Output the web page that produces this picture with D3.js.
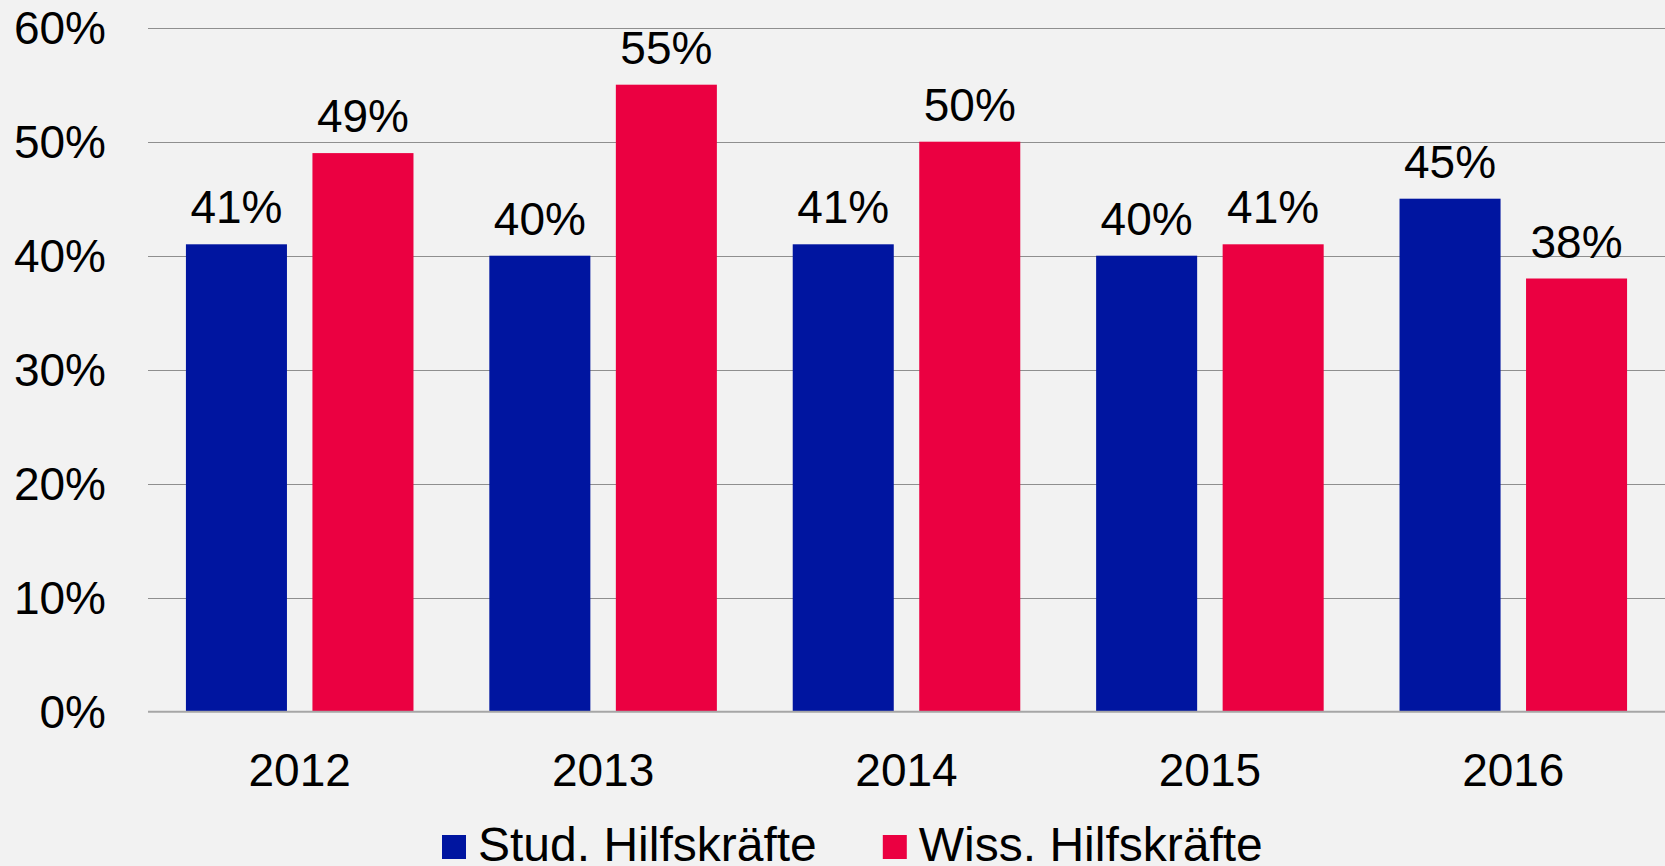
<!DOCTYPE html>
<html>
<head>
<meta charset="utf-8">
<script src="https://cdn.jsdelivr.net/npm/d3@7"></script>
<style>
  html, body { margin: 0; padding: 0; background: #f2f2f2; }
  text { font-family: "Liberation Sans", Arial, sans-serif; fill: #000; }
</style>
</head>
<body>
<script>
const years = ["2012", "2013", "2014", "2015", "2016"];
const stud = [41, 40, 41, 40, 45];
const wiss = [49, 55, 50, 41, 38];
const seriesNames = ["Stud. Hilfskräfte", "Wiss. Hilfskräfte"];
const seriesColors = ["#0015a0", "#eb0041"];
const yTicks = [0, 10, 20, 30, 40, 50, 60];

const width = 1665;
const height = 866;
const marginLeft = 148;
const marginTop = 27.7;
const plotBottom = 711.7;

const svg = d3.select("body")
  .append("svg")
  .attr("width", width)
  .attr("height", height);

svg.append("rect")
  .attr("width", width)
  .attr("height", height)
  .attr("fill", "#f2f2f2");

const x = d3.scaleBand()
  .domain(years)
  .range([marginLeft, width]);

const y = d3.scaleLinear()
  .domain([0, 60])
  .range([plotBottom, marginTop]);

// bars inside each band: 38 outer pad, 101 bar, 25 gap
const step = x.bandwidth();
const barW = step * 0.333;
const outer = step * 0.125;
const inner = step - 2 * outer - 2 * barW;

// grid lines
svg.append("g")
  .selectAll("line")
  .data(yTicks.filter(d => d > 0))
  .join("line")
  .attr("x1", marginLeft)
  .attr("x2", width)
  .attr("y1", d => Math.round(y(d)) + 0.5)
  .attr("y2", d => Math.round(y(d)) + 0.5)
  .attr("stroke", "#8f8f8f")
  .attr("stroke-width", 1);

// y axis labels
svg.append("g")
  .selectAll("text")
  .data(yTicks)
  .join("text")
  .attr("x", 106)
  .attr("y", d => y(d))
  .attr("dy", "0.35em")
  .attr("text-anchor", "end")
  .style("font-size", "46px")
  .text(d => d + "%");

const series = [stud, wiss];
series.forEach((vals, si) => {
  const g = svg.append("g");
  const bx = (i) => x(years[i]) + outer + si * (barW + inner);
  g.selectAll("rect")
    .data(vals)
    .join("rect")
    .attr("x", (d, i) => bx(i))
    .attr("y", d => y(d))
    .attr("width", barW)
    .attr("height", d => plotBottom - y(d))
    .attr("fill", seriesColors[si]);
  g.selectAll("text")
    .data(vals)
    .join("text")
    .attr("x", (d, i) => bx(i) + barW / 2)
    .attr("y", d => y(d) - 21)
    .attr("text-anchor", "middle")
    .style("font-size", "46px")
    .text(d => d + "%");
});

// zero line
svg.append("line")
  .attr("x1", marginLeft)
  .attr("x2", width)
  .attr("y1", plotBottom)
  .attr("y2", plotBottom)
  .attr("stroke", "#a6a6a6")
  .attr("stroke-width", 2);

// x axis labels
svg.append("g")
  .selectAll("text")
  .data(years)
  .join("text")
  .attr("x", d => x(d) + step / 2)
  .attr("y", 786)
  .attr("text-anchor", "middle")
  .style("font-size", "46px")
  .text(d => d);

// legend
const legend = svg.append("g");
let lx = 442;
seriesNames.forEach((name, i) => {
  legend.append("rect")
    .attr("x", lx)
    .attr("y", 835)
    .attr("width", 24)
    .attr("height", 24)
    .attr("fill", seriesColors[i]);
  const t = legend.append("text")
    .attr("x", lx + 36)
    .attr("y", 861)
    .style("font-size", "48px")
    .text(name);
  lx = lx + 36 + t.node().getComputedTextLength() + 66;
});
</script>
</body>
</html>
